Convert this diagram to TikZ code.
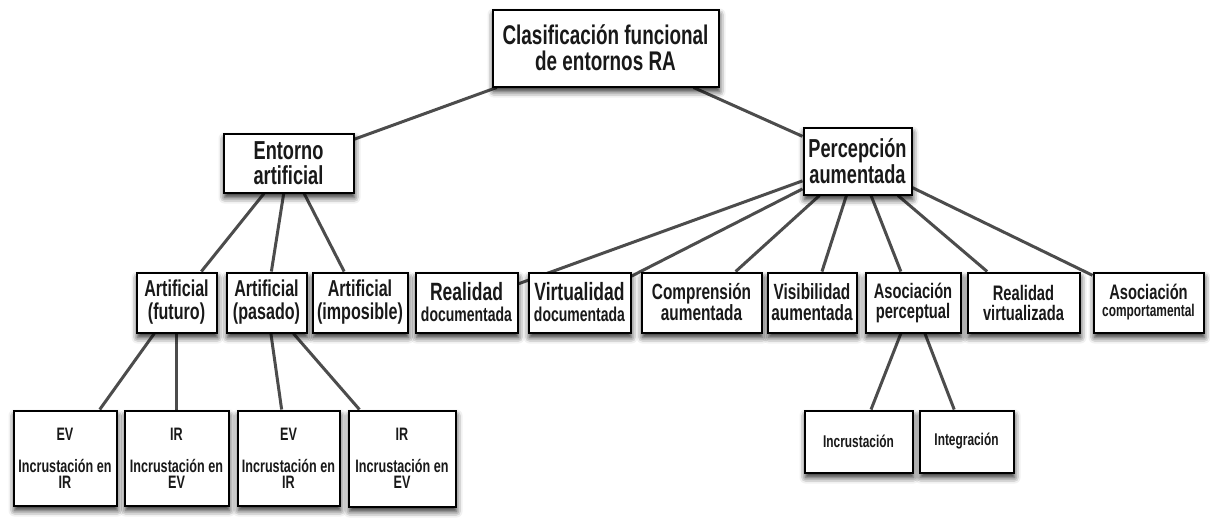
\documentclass[tikz,border=0pt]{standalone}
\usepackage{fontspec}
\setmainfont{Liberation Sans}[FakeStretch=0.7]
\usetikzlibrary{shadows.blur,backgrounds}

\begin{document}
\begin{tikzpicture}[x=1pt,y=-1pt,
  box/.style={rectangle,draw=black,line width=2pt,fill=white,align=center,inner sep=0pt,text=black!90,
    blur shadow={shadow xshift=1pt,shadow yshift=-5pt,shadow blur radius=6pt,shadow opacity=85}},
  fs/.style 2 args={font=\bfseries\fontsize{#1}{#2}\selectfont},
  link/.style={draw=black!70,line width=3pt}]
\useasboundingbox (0,0) rectangle (1210,525);
% top
\node[box,fs={27}{26},minimum width=226pt,minimum height=77pt] (root) at (605.5,48) {Clasificación funcional\\de entornos RA};
\node[box,fs={26}{25},minimum width=130pt,minimum height=59pt] (entorno) at (288.5,163) {Entorno\\artificial};
\node[box,fs={26}{24},minimum width=108pt,minimum height=67pt] (percepcion) at (857.5,161) {Percepción\\aumentada};
% second row
\node[box,fs={23}{23},minimum width=80pt,minimum height=60pt] (futuro) at (176.5,302.5) {Artificial\\(futuro)};
\node[box,fs={23}{23},minimum width=80pt,minimum height=60pt] (pasado) at (266.5,302.5) {Artificial\\(pasado)};
\node[box,fs={23}{23},minimum width=95pt,minimum height=60pt] (imposible) at (360,302.5) {Artificial\\(imposible)};
\node[box,fs={25}{21},minimum width=102pt,minimum height=60pt] (realdoc) at (466.5,302.5) {Realidad\\{\fontsize{20}{20}\selectfont documentada}};
\node[box,fs={25}{21},minimum width=102pt,minimum height=60pt] (virtdoc) at (579.5,302.5) {Virtualidad\\{\fontsize{20}{20}\selectfont documentada}};
\node[box,fs={22}{21},minimum width=120pt,minimum height=60pt] (comprension) at (701.5,302.5) {Comprensión\\aumentada};
\node[box,fs={22}{21},minimum width=89pt,minimum height=60pt] (visibilidad) at (812,302.5) {Visibilidad\\aumentada};
\node[box,fs={21}{20},minimum width=95pt,minimum height=60pt] (asocperc) at (913,302.5) {Asociación\\perceptual};
\node[box,fs={21}{20},minimum width=112pt,minimum height=60pt] (realvirt) at (1023.5,302.5) {Realidad\\virtualizada};
\node[box,fs={21}{17},minimum width=110pt,minimum height=60pt] (asoccomp) at (1148.5,302.5) {Asociación\\{\fontsize{17}{17}\selectfont comportamental}};
% third row
\node[box,fs={18}{16},minimum width=103pt,minimum height=95pt] (evfut) at (65,458) {EV\\[16pt]Incrustación en\\IR};
\node[box,fs={18}{16},minimum width=104pt,minimum height=95pt] (irfut) at (176.5,458) {IR\\[16pt]Incrustación en\\EV};
\node[box,fs={18}{16},minimum width=102pt,minimum height=95pt] (evpas) at (288.5,458) {EV\\[16pt]Incrustación en\\IR};
\node[box,fs={18}{16},minimum width=107pt,minimum height=96pt] (irpas) at (402,458.5) {IR\\[16pt]Incrustación en\\EV};
\node[box,fs={17}{17},minimum width=108pt,minimum height=62pt] (incrust) at (858.5,441.5) {Incrustación};
\node[box,fs={17}{17},minimum width=94pt,minimum height=62pt] (integr) at (966.5,441.5) {Integración};
% connectors
\begin{scope}[on background layer]
\draw[link] (root) -- (entorno);
\draw[link] (root) -- (percepcion);
\draw[link] (entorno) -- (futuro);
\draw[link] (entorno) -- (pasado);
\draw[link] (entorno) -- (imposible);
\draw[link] (percepcion) -- (realdoc);
\draw[link] (percepcion) -- (virtdoc);
\draw[link] (percepcion) -- (comprension);
\draw[link] (percepcion) -- (visibilidad);
\draw[link] (percepcion) -- (asocperc);
\draw[link] (percepcion) -- (realvirt);
\draw[link] (percepcion) -- (asoccomp);
\draw[link] (futuro) -- (evfut);
\draw[link] (futuro) -- (irfut);
\draw[link] (pasado) -- (evpas);
\draw[link] (pasado) -- (irpas);
\draw[link] (asocperc) -- (incrust);
\draw[link] (asocperc) -- (integr);
\end{scope}
\end{tikzpicture}
\end{document}
